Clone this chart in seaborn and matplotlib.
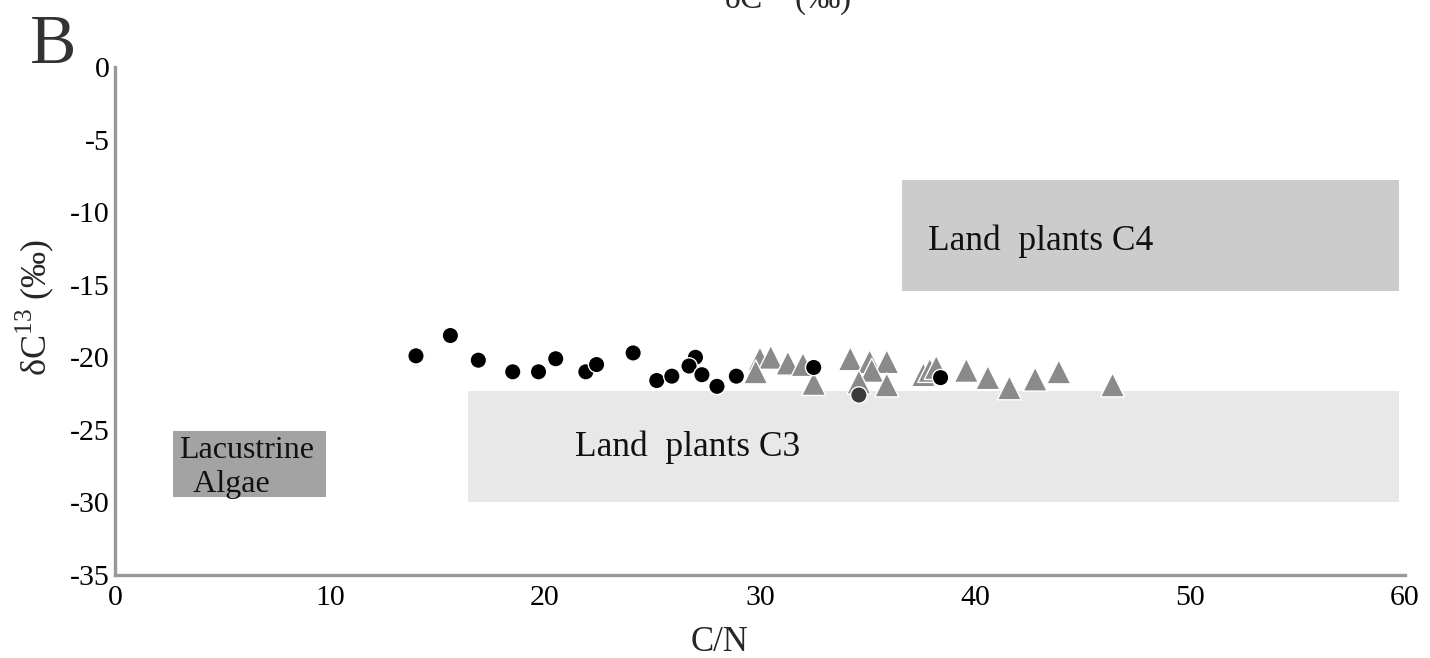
import seaborn as sns
import matplotlib.pyplot as plt
import pandas as pd
from matplotlib.patches import Rectangle

# C/N and d13C values
cn_black = [14.0, 15.6, 16.9, 18.5, 19.7, 20.5, 21.9, 22.4, 24.1, 25.2, 25.9,
            27.0, 26.7, 27.3, 28.0, 28.9, 32.5, 38.4]
d13c_black = [-19.9, -18.5, -20.2, -21.0, -21.0, -20.1, -21.0, -20.5, -19.7, -21.6, -21.3,
              -20.0, -20.6, -21.2, -22.0, -21.3, -20.7, -21.4]
cn_dark = [34.6]
d13c_dark = [-22.6]
cn_tri = [30.0, 30.5, 29.8, 31.3, 32.0, 32.5, 34.2, 35.1, 35.9, 35.2, 34.6,
          35.9, 37.6, 37.9, 38.2, 39.6, 40.6, 41.6, 42.8, 43.9, 46.4]
d13c_tri = [-20.1, -20.0, -21.0, -20.4, -20.5, -21.8, -20.1, -20.3, -20.3, -20.9, -21.7,
            -21.9, -21.2, -20.9, -20.7, -20.9, -21.4, -22.1, -21.5, -21.0, -21.9]

# source fields: (x0, x1, y_top, y_bottom)
zones = {
    "Lacustrine\n  Algae": (2.7, 9.8, -25.1, -29.6),
    "Land  plants C3": (16.4, 59.7, -22.3, -30.0),
    "Land  plants C4": (36.6, 59.7, -7.8, -15.4),
}
zone_colors = {"Lacustrine\n  Algae": "#a3a3a3", "Land  plants C3": "#e8e8e8",
               "Land  plants C4": "#cccccc"}
# where the label text starts (x, y)
zone_text = {"Lacustrine\n  Algae": (3.0, -27.6), "Land  plants C3": (21.4, -26.2),
             "Land  plants C4": (37.8, -12.0)}
zone_fs = {"Lacustrine\n  Algae": 23, "Land  plants C3": 25.5, "Land  plants C4": 25.5}

# triangles first so the circles sit on top
df = pd.DataFrame({
    "cn": cn_tri + cn_black + cn_dark,
    "d13c": d13c_tri + d13c_black + d13c_dark,
    "group": ["tri"] * len(cn_tri) + ["black"] * len(cn_black) + ["dark"] * len(cn_dark),
})

sns.set_style("white")
plt.rcParams["font.family"] = ["Liberation Serif", "DejaVu Serif"]
plt.rcParams["mathtext.fontset"] = "custom"
plt.rcParams["mathtext.rm"] = "Liberation Serif"
plt.rcParams["axes.unicode_minus"] = False

fig = plt.figure(figsize=(14.3, 6.58), dpi=100)
ax = fig.add_axes([0.0804, 0.1261, 0.9021, 0.7721])

for name, (x0, x1, yt, yb) in zones.items():
    ax.add_patch(Rectangle((x0, yb), x1 - x0, yt - yb, color=zone_colors[name],
                           lw=0, zorder=0))
    tx, ty = zone_text[name]
    ax.text(tx, ty, name, fontsize=zone_fs[name], va="center", ha="left",
            color="#111111", linespacing=1.25, zorder=1)

sns.scatterplot(data=df, x="cn", y="d13c", hue="group", style="group", size="group",
                palette={"black": "#000000", "dark": "#3a3a3a", "tri": "#8a8a8a"},
                markers={"black": "o", "dark": "o", "tri": "^"},
                sizes={"black": 140, "dark": 140, "tri": 300},
                edgecolor="white", linewidth=1.0, legend=False, ax=ax, zorder=3)

ax.set_xlim(0, 60)
ax.set_ylim(-35, 0)
ax.set_xticks(range(0, 61, 10))
ax.set_yticks(range(-35, 1, 5))
for side in ["top", "right"]:
    ax.spines[side].set_visible(False)
for side in ["left", "bottom"]:
    ax.spines[side].set_color("#999999")
    ax.spines[side].set_linewidth(2.4)
ax.tick_params(axis="both", direction="out", length=4, width=2, color="#999999",
               labelsize=21.5, pad=0, labelcolor="black")
ax.tick_params(axis="x", pad=3)

ax.set_xlabel("C/N", fontsize=25)
ax.xaxis.set_label_coords(0.469, -0.1)
ax.set_ylabel(r"δC$^{13}$ (‰)", fontsize=26)
ax.yaxis.set_label_coords(-0.046, 0.526)

fig.text(0.021, 0.905, "B", fontsize=50, color="#333333", va="baseline")
# clipped copy of the axis title at the top edge, as in the source figure
fig.text(0.506, 1 - 9 / 658, r"δC$^{13}$ (‰)", fontsize=24, va="baseline", ha="left")

fig.savefig("out.png", dpi=100)
